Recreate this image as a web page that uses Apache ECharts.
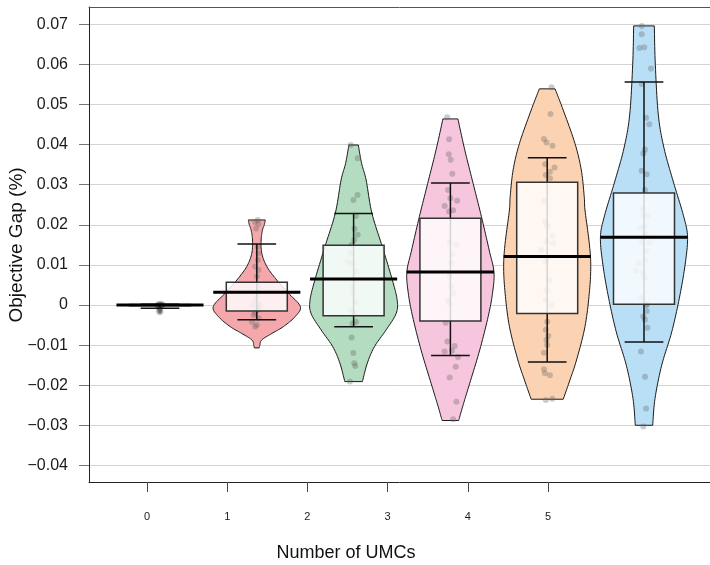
<!DOCTYPE html>
<html><head><meta charset="utf-8">
<script src="https://cdn.jsdelivr.net/npm/echarts@6/dist/echarts.min.js"></script>
<style>html,body{margin:0;padding:0;background:#fff}#c{width:710px;height:565px}</style>
</head><body><div id="c"></div>
<script>
// ---------- data ----------
const categories = ['0', '1', '2', '3', '4', '5'];
const yTicks = [-0.04, -0.03, -0.02, -0.01, 0, 0.01, 0.02, 0.03, 0.04, 0.05, 0.06, 0.07];
const xTicks = [0, 1, 2, 3, 4, 5];

// box stats per group: [lower whisker, Q1, median, Q3, upper whisker]
const boxStats = [
  [-0.0008, -0.0002, 0.0000, 0.0001, 0.0002],
  [-0.0037, -0.0015, 0.0032, 0.0057, 0.0152],
  [-0.0054, -0.0027, 0.0065, 0.0149, 0.0228],
  [-0.0126, -0.0040, 0.0082, 0.0216, 0.0304],
  [-0.0142, -0.0021, 0.0121, 0.0306, 0.0367],
  [-0.0092, 0.0002, 0.0169, 0.0279, 0.0556]
];

// violin profiles: [value, relative density width]
const violin0 = [[0.0004, 0.02], [0.0000, 0.06], [-0.0008, 0.04], [-0.0019, 0.01]];
const violin1 = [[0.0212, 0.195], [0.0200, 0.172], [0.0187, 0.131], [0.0162, 0.099], [0.0129, 0.115], [0.0096, 0.23], [0.0062, 0.46], [0.0029, 0.73], [-0.0004, 1.0], [-0.0029, 0.88], [-0.0054, 0.61], [-0.0071, 0.345], [-0.0087, 0.115], [-0.0100, 0.07], [-0.0107, 0.057]];
const violin2 = [[0.0399, 0.108], [0.0353, 0.184], [0.0312, 0.287], [0.0229, 0.42], [0.0145, 0.66], [0.0062, 0.89], [0.0012, 1.0], [-0.0021, 0.977], [-0.0062, 0.747], [-0.0104, 0.478], [-0.0145, 0.315], [-0.0191, 0.202]];
const violin3 = [[0.0464, 0.172], [0.0387, 0.329], [0.0303, 0.522], [0.0220, 0.713], [0.0137, 0.89], [0.0082, 1.0], [0.0029, 0.966], [-0.0029, 0.867], [-0.0112, 0.674], [-0.0195, 0.444], [-0.0250, 0.29], [-0.0288, 0.19]];
const violin4 = [[0.0539, 0.18], [0.0486, 0.368], [0.0403, 0.637], [0.0337, 0.782], [0.0270, 0.85], [0.0237, 0.867], [0.0154, 0.966], [0.0096, 1.0], [0.0029, 0.966], [-0.0054, 0.867], [-0.0137, 0.674], [-0.0187, 0.522], [-0.0235, 0.368]];
const violin5 = [[0.0696, 0.237], [0.0599, 0.26], [0.0474, 0.329], [0.0391, 0.46], [0.0307, 0.674], [0.0224, 0.903], [0.0170, 1.0], [0.0100, 0.943], [0.0017, 0.811], [-0.0067, 0.637], [-0.0150, 0.407], [-0.0233, 0.253], [-0.0300, 0.2]];

// jittered observations: [jitter offset (category units), value]
const points0 = [[0, 0.0003], [0.02, 0.0002], [-0.02, 0.0001], [0.01, 0], [-0.01, 0], [0.03, 0], [-0.03, -0.0001], [0, -0.0002], [0.01, -0.0004], [-0.01, -0.0006], [0, -0.0010], [-0.01, -0.0013], [0.005, -0.0016], [-0.005, -0.0018]];
const points1 = [[0.01, 0.0212], [-0.017, 0.0207], [0.017, 0.0202], [-0.007, 0.0191], [0.01, 0.0145], [0.017, 0.0129], [0.01, 0.0112], [-0.017, 0.0096], [0.017, 0.0087], [0, 0.0071], [0.017, 0.0046], [0, 0.0021], [-0.017, 0.0012], [0.017, 0.0004], [-0.05, 0.0000], [0, -0.0004], [0.034, -0.0004], [0.017, -0.0012], [-0.017, -0.0020], [-0.034, -0.0025], [0.017, -0.0033], [-0.05, -0.0042], [0, -0.0050], [-0.017, -0.0054]];
const points2 = [[-0.03, 0.0399], [0.041, 0.0366], [0.041, 0.0274], [-0.003, 0.0262], [0.024, 0.0222], [0.01, 0.0190], [0.041, 0.0175], [0.007, 0.0162], [-0.02, 0.0150], [-0.028, 0.0129], [-0.062, 0.0108], [-0.01, 0.0104], [0.02, 0.0085], [0.007, 0.0062], [-0.01, 0.0045], [-0.01, 0.0029], [0.017, 0.0008], [-0.028, -0.0012], [0.007, -0.0021], [0.024, -0.0042], [-0.01, -0.0046], [-0.021, -0.0081], [-0.003, -0.0120], [0.007, -0.0145], [0.017, -0.0152], [-0.038, -0.0191]];
const points3 = [[-0.034, 0.0468], [-0.014, 0.0413], [-0.017, 0.0376], [0.003, 0.0362], [0.02, 0.0327], [-0.024, 0.0287], [0, 0.0266], [0.069, 0.0260], [-0.059, 0.0247], [-0.014, 0.0233], [0.028, 0.0236], [-0.007, 0.0155], [0.062, 0.0150], [0.02, 0.0127], [0.01, 0.0104], [-0.007, 0.0071], [0.01, 0.0046], [0.028, 0.0029], [-0.024, 0.0012], [-0.007, 0.0004], [-0.048, -0.0044], [-0.031, -0.0091], [0.045, -0.0102], [-0.059, -0.0116], [0.017, -0.0114], [0.079, -0.0130], [0.055, -0.0154], [-0.007, -0.0181], [0.062, -0.0241], [0.028, -0.0285]];
const points4 = [[0.045, 0.0543], [0.034, 0.0476], [-0.034, 0.0414], [-0.007, 0.0405], [0.055, 0.0397], [-0.021, 0.0351], [0.076, 0.0343], [0.028, 0.0332], [-0.014, 0.0324], [0.028, 0.0316], [-0.034, 0.0260], [-0.024, 0.0208], [0, 0.0197], [0.055, 0.0172], [-0.007, 0.0158], [0.062, 0.0154], [-0.062, 0.0137], [-0.014, 0.0108], [0.017, 0.0062], [-0.007, 0.0037], [-0.014, 0.0012], [0.045, 0.0000], [0, -0.0042], [-0.014, -0.0062], [0.01, -0.0077], [-0.007, -0.0087], [0, -0.0100], [-0.034, -0.0119], [-0.034, -0.0160], [-0.024, -0.0170], [0.028, -0.0175], [-0.014, -0.0237], [0.052, -0.0234]];
const points5 = [[-0.024, 0.0696], [-0.024, 0.0675], [-0.048, 0.0641], [0.003, 0.0643], [0.072, 0.0590], [-0.024, 0.0551], [0.021, 0.0467], [0.055, 0.0451], [0.01, 0.0388], [-0.007, 0.0378], [-0.024, 0.0335], [0.028, 0.0326], [0.01, 0.0287], [-0.014, 0.0239], [-0.007, 0.0224], [0.045, 0.0222], [0.01, 0.0197], [-0.034, 0.0193], [0.01, 0.0179], [-0.024, 0.0157], [0.055, 0.0156], [0.028, 0.0135], [0.01, 0.0112], [-0.052, 0.0104], [-0.083, 0.0085], [-0.014, 0.0079], [0.01, 0.0067], [-0.024, 0.0018], [0.021, 0.0000], [0.034, 0.0002], [0.028, -0.0015], [-0.007, -0.0029], [0.01, -0.0037], [0.034, -0.0057], [-0.031, -0.0116], [0.01, -0.0179], [0.021, -0.0258], [-0.007, -0.0303]];

// ---------- styles ----------
const fillColors = ['#bdbdbd', '#f5a8ab', '#b3dcc0', '#f6c6de', '#fcd3b2', '#b8dff6'];
const FONT = '"Liberation Sans", Arial, Helvetica, sans-serif';

const violins = [violin0, violin1, violin2, violin3, violin4, violin5];
const pointSets = [points0, points1, points2, points3, points4, points5];

function catmull(pts, seg) {
  const out = [];
  for (let i = 0; i < pts.length - 1; i++) {
    const p0 = pts[i - 1] || pts[i], p1 = pts[i], p2 = pts[i + 1], p3 = pts[i + 2] || pts[i + 1];
    for (let t = 0; t < seg; t++) {
      const s = t / seg, s2 = s * s, s3 = s2 * s;
      const f = k => 0.5 * (2 * p1[k] + (-p0[k] + p2[k]) * s + (2 * p0[k] - 5 * p1[k] + 4 * p2[k] - p3[k]) * s2 + (-p0[k] + 3 * p1[k] - 3 * p2[k] + p3[k]) * s3);
      out.push([Math.max(0.4, f(0)), f(1)]);
    }
  }
  out.push(pts[pts.length - 1]);
  return out;
}

const groupIdx = categories.map((c, i) => [i, 0]);

const scatterData = [];
pointSets.forEach((ps, i) => ps.forEach(p => scatterData.push([i + p[0], p[1]])));

const chart = echarts.init(document.getElementById('c'), null, { renderer: 'canvas' });
chart.setOption({
  animation: false,
  backgroundColor: '#fff',
  grid: { left: 89, top: 7, right: 0, height: 475, show: false },
  xAxis: [
    {
      type: 'value', min: -0.7232, max: 7.0198, position: 'bottom',
      axisLine: { show: true, onZero: false, lineStyle: { color: '#222', width: 1 } }, splitLine: { show: false },
      axisTick: { show: true, length: 10, customValues: xTicks, lineStyle: { color: '#444', width: 1 } },
      axisLabel: { customValues: xTicks, margin: 29, fontSize: 11, color: '#222', fontFamily: FONT, formatter: v => categories[Math.round(v)] }
    },
    {
      type: 'value', min: -0.7335, max: 5.6818, position: 'top',
      axisLine: { show: true, onZero: false, lineStyle: { color: '#555', width: 1 } },
      axisTick: { show: false }, axisLabel: { show: false }, splitLine: { show: false }
    }
  ],
  yAxis: {
    type: 'value', min: -0.04414, max: 0.07431, splitNumber: 12,
    axisLine: { show: true, onZero: false, lineStyle: { color: '#222', width: 1 } },
    axisTick: { show: true, length: 10, customValues: yTicks, lineStyle: { color: '#777', width: 1 } },
    axisLabel: { customValues: yTicks, margin: 21, fontSize: 16, color: '#1a1a1a', fontFamily: FONT,
      formatter: v => v === 0 ? '0' : (v < 0 ? '\u2212' : '') + Math.abs(v).toFixed(2) },
    splitLine: { show: true, lineStyle: { color: '#d3d3d3', width: 1 } }
  },
  graphic: [
    { type: 'text', x: 17, y: 245, rotation: Math.PI / 2,
      style: { text: 'Objective Gap (%)', font: '19px ' + FONT, fill: '#111', align: 'center', verticalAlign: 'middle', textAlign: 'center', textVerticalAlign: 'middle' } },
    { type: 'text', x: 346, y: 553,
      style: { text: 'Number of UMCs', font: '18px ' + FONT, fill: '#111', align: 'center', verticalAlign: 'middle', textAlign: 'center', textVerticalAlign: 'middle' } }
  ],
  series: [
    {
      type: 'custom', name: 'violin', xAxisIndex: 1, yAxisIndex: 0, z: 2,
      data: groupIdx, encode: { x: 0, y: 1 },
      renderItem: function (params, api) {
        const i = api.value(0);
        const cx = api.coord([i, 0])[0];
        const halfMax = 0.45 * api.size([1, 0])[0];
        const prof = violins[i].map(p => [p[1] * halfMax, api.coord([i, p[0]])[1]]);
        const right = catmull(prof, 10);
        const pts = right.map(p => [cx + p[0], p[1]]);
        for (let k = right.length - 1; k >= 0; k--) pts.push([cx - right[k][0], right[k][1]]);
        return { type: 'polygon', shape: { points: pts }, style: { fill: fillColors[i], stroke: '#1a1a1a', lineWidth: 1 } };
      }
    },
    {
      type: 'scatter', name: 'points', xAxisIndex: 1, yAxisIndex: 0, z: 3,
      data: scatterData, symbolSize: 6,
      itemStyle: { color: 'rgba(100,100,100,0.42)' }
    },
    {
      type: 'custom', name: 'box', xAxisIndex: 1, yAxisIndex: 0, z: 4,
      data: groupIdx, encode: { x: 0, y: 1 },
      renderItem: function (params, api) {
        const i = api.value(0);
        const s = boxStats[i];
        const unit = api.size([1, 0])[0];
        const cx = api.coord([i, 0])[0];
        const y = v => api.coord([i, v])[1];
        const capW = 0.2 * unit, boxW = 0.315 * unit, medW = 0.45 * unit;
        const ls = { stroke: '#111', lineWidth: 1.5 };
        return {
          type: 'group', children: [
            { type: 'line', shape: { x1: cx, y1: y(s[0]), x2: cx, y2: y(s[4]) }, style: ls },
            { type: 'line', shape: { x1: cx - capW, y1: y(s[0]), x2: cx + capW, y2: y(s[0]) }, style: ls },
            { type: 'line', shape: { x1: cx - capW, y1: y(s[4]), x2: cx + capW, y2: y(s[4]) }, style: ls },
            { type: 'rect', shape: { x: cx - boxW, y: y(s[3]), width: 2 * boxW, height: y(s[1]) - y(s[3]) },
              style: { fill: 'rgba(255,255,255,0.82)', stroke: '#333', lineWidth: 1.5 } },
            { type: 'line', shape: { x1: cx - medW, y1: y(s[2]), x2: cx + medW, y2: y(s[2]) }, style: { stroke: '#000', lineWidth: 3 } }
          ]
        };
      }
    }
  ]
});
</script>
</body></html>
